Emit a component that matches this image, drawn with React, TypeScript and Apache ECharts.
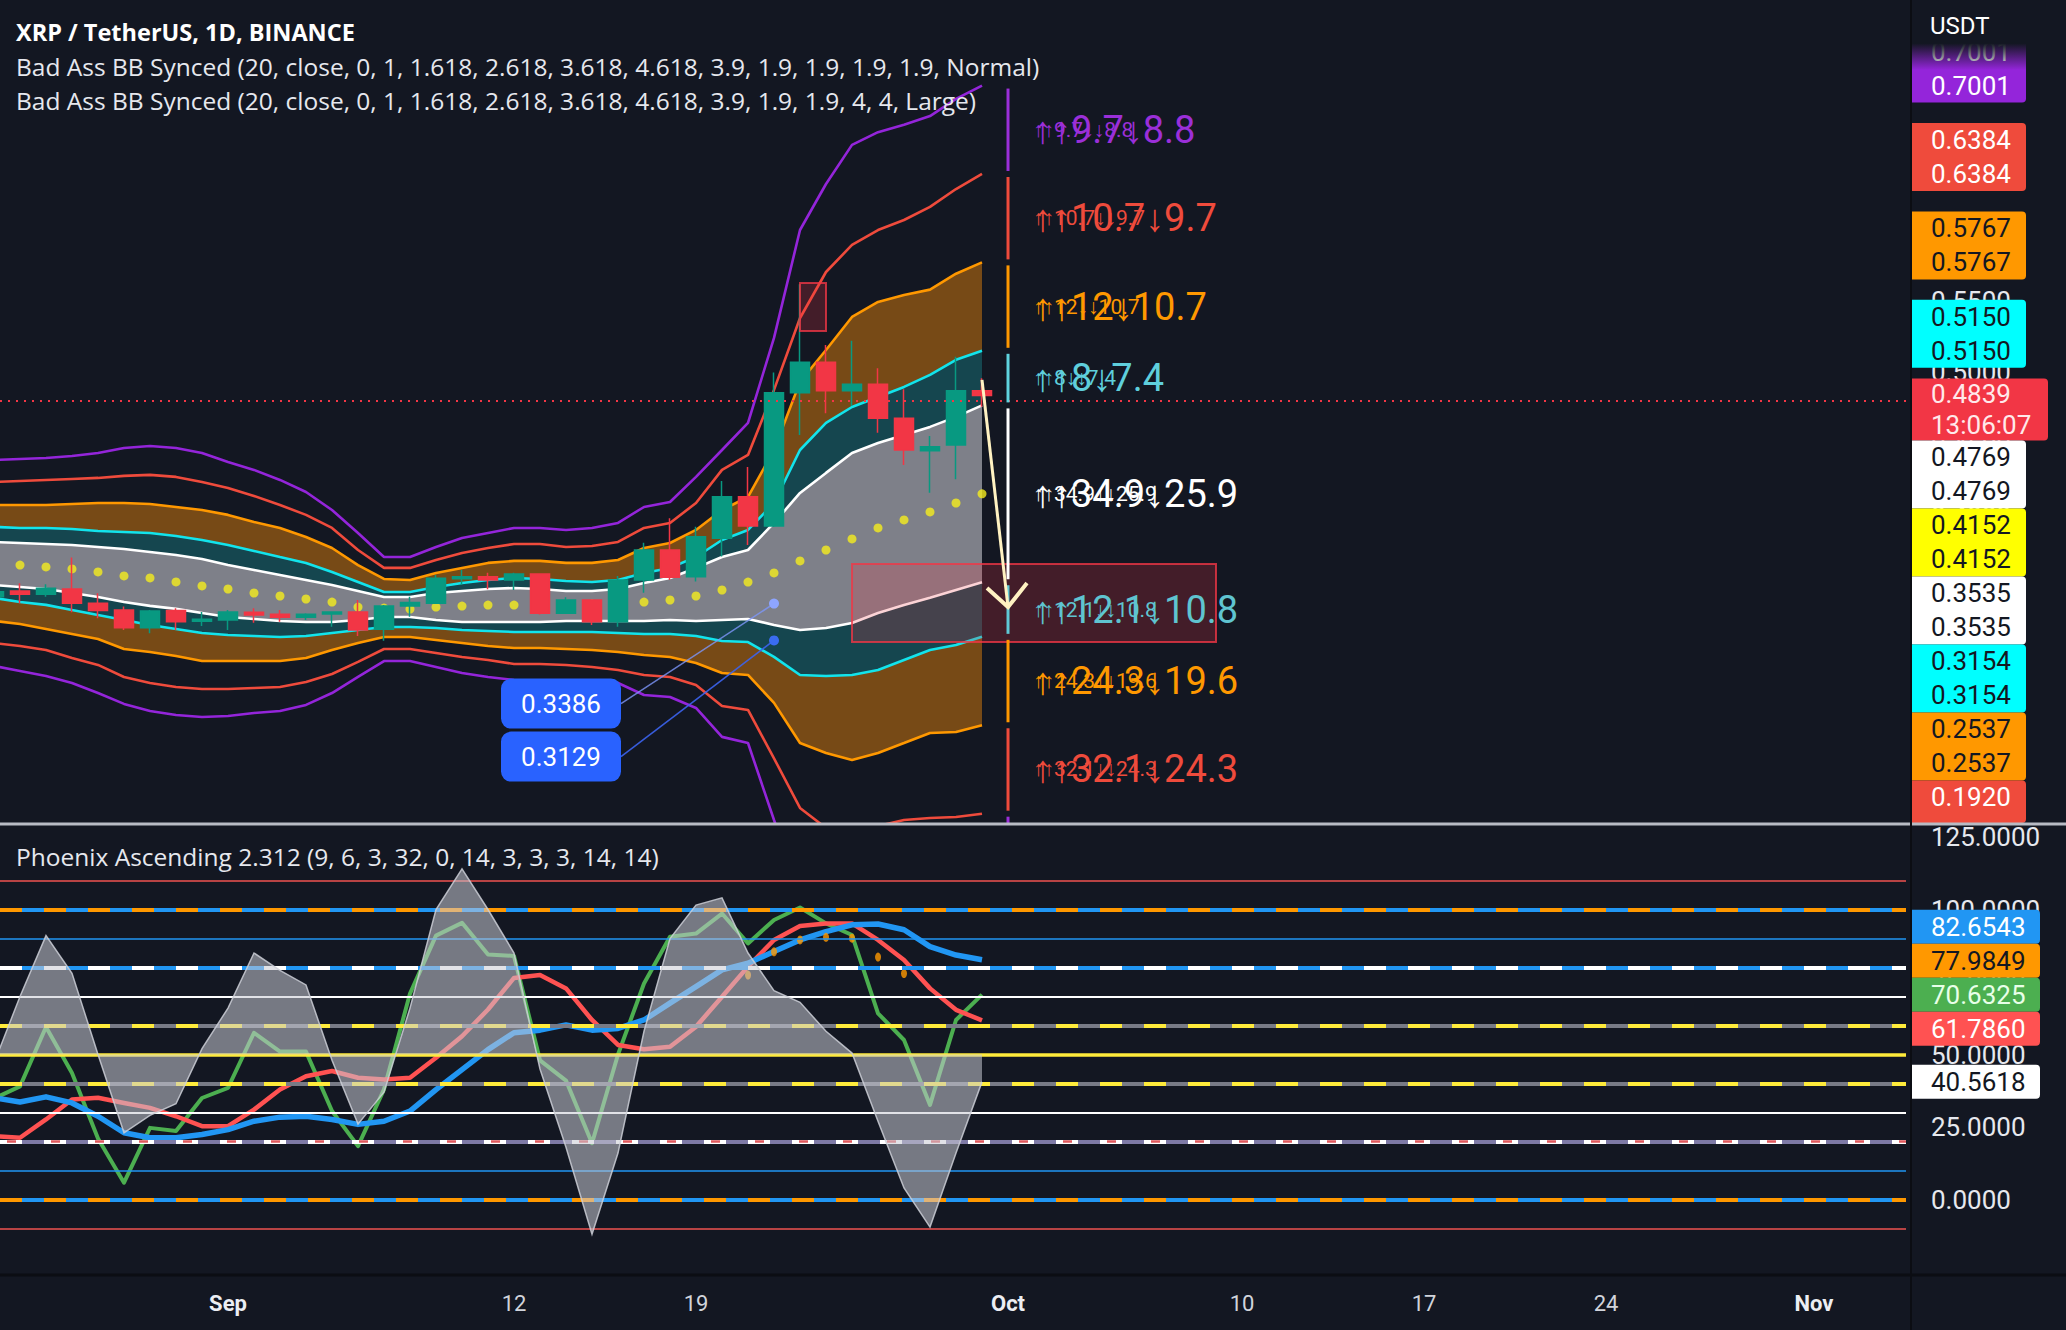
import React, { useEffect, useRef } from "react";
import * as echarts from "echarts";

// ---------------- constants (style / layout) ----------------
const BG = "#131722";
const AXIS_X = 1910;
const PANE_BOTTOM = 823;
const FONT_NUM = "Roboto";
const FONT_TXT = "Open Sans";

// ---------------- timeline (day index 0 = START_DATE) ----------------
const START_DATE = "2022-08-23";
const DAY_COUNT = 74;
const X_MIN = 0.2308; // visible time window, in days from START_DATE
const X_MAX = 73.538;
const xTickLabels = [
  { date: "2022-09-01", text: "Sep", month: true },
  { date: "2022-09-12", text: "12", month: false },
  { date: "2022-09-19", text: "19", month: false },
  { date: "2022-10-01", text: "Oct", month: true },
  { date: "2022-10-10", text: "10", month: false },
  { date: "2022-10-17", text: "17", month: false },
  { date: "2022-10-24", text: "24", month: false },
  { date: "2022-11-01", text: "Nov", month: true },
];

// ---------------- price data (Aug 23 .. Sep 30), [open, close, low, high] ----------------
const candles: number[][] = [
  [0.3434, 0.3469, 0.3420, 0.3480],
  [0.3474, 0.3451, 0.3388, 0.3528],
  [0.3451, 0.3493, 0.3434, 0.3521],
  [0.3488, 0.3388, 0.3326, 0.3707],
  [0.3388, 0.3337, 0.3284, 0.3458],
  [0.3342, 0.3218, 0.3202, 0.3365],
  [0.3218, 0.3335, 0.3179, 0.3342],
  [0.3337, 0.3260, 0.3202, 0.3354],
  [0.3263, 0.3277, 0.3230, 0.3328],
  [0.3272, 0.3328, 0.3202, 0.3342],
  [0.3326, 0.3307, 0.3253, 0.3354],
  [0.3312, 0.3291, 0.3260, 0.3342],
  [0.3291, 0.3312, 0.3272, 0.3319],
  [0.3314, 0.3328, 0.3225, 0.3328],
  [0.3328, 0.3202, 0.3160, 0.3411],
  [0.3207, 0.3370, 0.3127, 0.3377],
  [0.3370, 0.3393, 0.3295, 0.3434],
  [0.3388, 0.3563, 0.3383, 0.3586],
  [0.3560, 0.3574, 0.3516, 0.3621],
  [0.3574, 0.3551, 0.3486, 0.3602],
  [0.3551, 0.3593, 0.3481, 0.3602],
  [0.3593, 0.3319, 0.3310, 0.3598],
  [0.3319, 0.3411, 0.3314, 0.3430],
  [0.3411, 0.3260, 0.3237, 0.3416],
  [0.3260, 0.3551, 0.3225, 0.3579],
  [0.3551, 0.3760, 0.3462, 0.3811],
  [0.3760, 0.3570, 0.3551, 0.3982],
  [0.3574, 0.3853, 0.3540, 0.3923],
  [0.3842, 0.4132, 0.3714, 0.4242],
  [0.4132, 0.3928, 0.3795, 0.4340],
  [0.3928, 0.4858, 0.3920, 0.4998],
  [0.4858, 0.5070, 0.4563, 0.5615],
  [0.5070, 0.4872, 0.4714, 0.5191],
  [0.4872, 0.4917, 0.4765, 0.5221],
  [0.4917, 0.4679, 0.4579, 0.5028],
  [0.4679, 0.4458, 0.4353, 0.4882],
  [0.4453, 0.4481, 0.4160, 0.4556],
  [0.4493, 0.4872, 0.4254, 0.5109],
  [0.4872, 0.4839, 0.4760, 0.4959],
];
const currentPrice = 0.4839;
const countdown = "13:06:07";

// Bollinger-style bands (Aug 23 .. Sep 30)
const bbPurpleUp = [0.4388, 0.4395, 0.4402, 0.4416, 0.4437, 0.4472, 0.4486, 0.4472, 0.4437, 0.4374, 0.4319, 0.4249, 0.4165, 0.4039, 0.3879, 0.3711, 0.3711, 0.3781, 0.3844, 0.3879, 0.3914, 0.3914, 0.3900, 0.3914, 0.3949, 0.4060, 0.4095, 0.4270, 0.4458, 0.4647, 0.5240, 0.5993, 0.6314, 0.6587, 0.6676, 0.6728, 0.6788, 0.6908, 0.7001];
const bbRedUp = [0.4235, 0.4242, 0.4249, 0.4256, 0.4263, 0.4277, 0.4284, 0.4270, 0.4235, 0.4193, 0.4137, 0.4074, 0.4005, 0.3914, 0.3760, 0.3635, 0.3635, 0.3690, 0.3739, 0.3774, 0.3802, 0.3802, 0.3781, 0.3788, 0.3816, 0.3914, 0.3949, 0.4088, 0.4319, 0.4423, 0.4877, 0.5379, 0.5700, 0.5889, 0.5993, 0.6063, 0.6154, 0.6279, 0.6384];
const bbOrangeUp = [0.4074, 0.4074, 0.4074, 0.4081, 0.4088, 0.4088, 0.4081, 0.4060, 0.4039, 0.4005, 0.3956, 0.3914, 0.3851, 0.3774, 0.3655, 0.3558, 0.3551, 0.3600, 0.3635, 0.3670, 0.3684, 0.3684, 0.3670, 0.3670, 0.3690, 0.3774, 0.3809, 0.3900, 0.4039, 0.4130, 0.4458, 0.4933, 0.5156, 0.5386, 0.5491, 0.5540, 0.5577, 0.5688, 0.5767];
const bbCyanUp = [0.3921, 0.3914, 0.3914, 0.3907, 0.3893, 0.3886, 0.3879, 0.3858, 0.3830, 0.3795, 0.3753, 0.3711, 0.3670, 0.3607, 0.3537, 0.3467, 0.3467, 0.3502, 0.3530, 0.3551, 0.3565, 0.3558, 0.3544, 0.3537, 0.3551, 0.3600, 0.3635, 0.3711, 0.3830, 0.3900, 0.4088, 0.4458, 0.4647, 0.4758, 0.4828, 0.4898, 0.4982, 0.5087, 0.5150];
const bbWhiteUp = [0.3816, 0.3809, 0.3802, 0.3795, 0.3781, 0.3767, 0.3746, 0.3725, 0.3697, 0.3655, 0.3621, 0.3586, 0.3551, 0.3516, 0.3474, 0.3432, 0.3432, 0.3460, 0.3474, 0.3488, 0.3495, 0.3488, 0.3474, 0.3474, 0.3488, 0.3530, 0.3565, 0.3635, 0.3711, 0.3760, 0.3949, 0.4158, 0.4298, 0.4437, 0.4507, 0.4563, 0.4619, 0.4689, 0.4769];
const bbBasis = [0.3670, 0.3655, 0.3642, 0.3628, 0.3607, 0.3579, 0.3565, 0.3537, 0.3509, 0.3488, 0.3460, 0.3439, 0.3418, 0.3397, 0.3362, 0.3355, 0.3348, 0.3362, 0.3369, 0.3376, 0.3376, 0.3383, 0.3383, 0.3383, 0.3390, 0.3397, 0.3411, 0.3439, 0.3481, 0.3536, 0.3600, 0.3684, 0.3760, 0.3837, 0.3914, 0.3970, 0.4026, 0.4088, 0.4152];
const bbWhiteDn = [0.3516, 0.3502, 0.3488, 0.3460, 0.3432, 0.3397, 0.3370, 0.3349, 0.3321, 0.3293, 0.3279, 0.3265, 0.3258, 0.3258, 0.3272, 0.3293, 0.3293, 0.3272, 0.3258, 0.3258, 0.3258, 0.3258, 0.3265, 0.3265, 0.3265, 0.3265, 0.3272, 0.3265, 0.3272, 0.3279, 0.3237, 0.3202, 0.3216, 0.3251, 0.3321, 0.3377, 0.3426, 0.3481, 0.3535];
const bbCyanDn = [0.3425, 0.3397, 0.3377, 0.3342, 0.3307, 0.3272, 0.3237, 0.3209, 0.3181, 0.3167, 0.3160, 0.3153, 0.3160, 0.3181, 0.3202, 0.3223, 0.3223, 0.3216, 0.3202, 0.3195, 0.3188, 0.3188, 0.3188, 0.3188, 0.3181, 0.3174, 0.3174, 0.3160, 0.3125, 0.3118, 0.3014, 0.2888, 0.2881, 0.2888, 0.2923, 0.2993, 0.3062, 0.3097, 0.3154];
const bbOrangeDn = [0.3265, 0.3244, 0.3209, 0.3174, 0.3139, 0.3069, 0.3048, 0.3020, 0.2985, 0.2985, 0.2985, 0.2985, 0.3006, 0.3062, 0.3111, 0.3153, 0.3153, 0.3132, 0.3111, 0.3090, 0.3076, 0.3076, 0.3069, 0.3062, 0.3048, 0.3027, 0.3013, 0.2972, 0.2902, 0.2888, 0.2693, 0.2413, 0.2344, 0.2295, 0.2344, 0.2413, 0.2483, 0.2490, 0.2537];
const bbRedDn = [0.3111, 0.3090, 0.3062, 0.3006, 0.2958, 0.2874, 0.2832, 0.2804, 0.2790, 0.2790, 0.2797, 0.2804, 0.2839, 0.2895, 0.2979, 0.3069, 0.3069, 0.3041, 0.3013, 0.2993, 0.2965, 0.2965, 0.2958, 0.2944, 0.2923, 0.2888, 0.2874, 0.2818, 0.2672, 0.2644, 0.2306, 0.1960, 0.1820, 0.1785, 0.1834, 0.1876, 0.1890, 0.1897, 0.1920];
const bbPurpleDn = [0.2951, 0.2916, 0.2881, 0.2832, 0.2762, 0.2686, 0.2637, 0.2609, 0.2595, 0.2602, 0.2623, 0.2637, 0.2679, 0.2762, 0.2874, 0.2985, 0.2985, 0.2944, 0.2902, 0.2874, 0.2853, 0.2846, 0.2839, 0.2839, 0.2832, 0.2748, 0.2734, 0.2658, 0.2456, 0.2413, 0.1876, 0.1353, 0.1213, 0.1087, 0.1143, 0.1213, 0.1262, 0.1269, 0.1303];

// projection ladder labels (top to bottom)
const projectionDate = "2022-10-01";
const projUp = ["9.7", "10.7", "12", "8", "34.9", "12.1", "24.3", "32.1"];
const projDn = ["8.8", "9.7", "10.7", "7.4", "25.9", "10.8", "19.6", "24.3"];

// drawings
const noteBoxes = [
  { from: "2022-09-25", to: "2022-10-09", top: 0.3662, bottom: 0.3118 },
  { from: "2022-09-23", to: "2022-09-24", top: 0.5623, bottom: 0.5288 },
];
const arrowFrom = { date: "2022-09-30", price: 0.4947 };
const arrowTo = { date: "2022-10-01", price: 0.3362 };
const priceNotes = [
  { date: "2022-09-22", price: 0.3386 },
  { date: "2022-09-22", price: 0.3129 },
];

// ---------------- oscillator (Aug 23 .. Sep 30) ----------------
const oscGray = [47, 70, 91, 78, 50, 23, 29, 33, 52, 66, 85, 79, 74, 48, 26, 37, 66, 100, 114, 100, 85, 45, 18, -12, 16, 58, 90, 101.5, 104, 85, 72, 68, 58, 50.5, 27, 4, -9.5, 16, 40.5618];
const oscGreen = [34.8, 39, 59.5, 43.6, 21, 5.8, 24.7, 23.6, 35, 38.5, 57.5, 51, 51, 30.5, 18.4, 38, 71, 91, 95.4, 84.5, 84, 48, 41, 19.4, 50, 74.5, 90.6, 91.7, 98.6, 88.3, 96.4, 100.7, 95.2, 91.2, 64.2, 55, 32.6, 61.9, 70.6325];
const oscRed = [21.8, 21.3, 27.6, 34.5, 35.1, 33.3, 31.6, 28.7, 25.3, 25.3, 31, 37.9, 42.5, 44.3, 42, 41.4, 42, 48.9, 56.3, 65.5, 76.4, 77.4, 72.8, 61.9, 53.3, 51.8, 52.7, 59.6, 69.9, 80.3, 89.5, 94.3, 95.2, 95.2, 89.5, 82.6, 72.8, 65.4, 61.786];
const oscBlue = [35.1, 33.6, 35.4, 33.3, 28.7, 23, 21.3, 21.3, 22.4, 24.1, 27, 28.4, 28.7, 27.6, 25.9, 27, 30.5, 37.9, 44.8, 51.7, 57.5, 58.4, 60.2, 58.4, 59, 61.9, 67.7, 73.4, 79.2, 81.5, 85.5, 89.5, 92.4, 94.7, 95, 93, 87.2, 84.3, 82.6543];
const oscOrangeDots: [string, number][] = [
  ["2022-09-21", 77.4], ["2022-09-22", 85.4], ["2022-09-23", 89.5], ["2022-09-24", 90.4],
  ["2022-09-25", 90.1], ["2022-09-26", 83.6], ["2022-09-27", 77.9],
];
const oscOrangeLast = 77.9849;
const oscBaseline = 50;
const oscLevels = [
  { v: 110, color: "#f05350", w: 1.6 },
  { v: 100, color: "#2196f3", dash: "#ff9800", w: 4 },
  { v: 90, color: "#2196f3", w: 1.6 },
  { v: 80, color: "#2196f3", dash: "#ffffff", w: 4 },
  { v: 70, color: "#ffffff", w: 2 },
  { v: 60, color: "#787b86", dash: "#ffeb3b", w: 4 },
  { v: 50, color: "#ffeb3b", w: 3.5 },
  { v: 40, color: "#787b86", dash: "#ffeb3b", w: 4 },
  { v: 30, color: "#ffffff", w: 2 },
  { v: 20, color: "#7e7aa6", dash: "#ffffff", dash2: "#e0585c", w: 4 },
  { v: 10, color: "#2196f3", w: 1.6 },
  { v: 0, color: "#2196f3", dash: "#ff9800", w: 4 },
  { v: -10, color: "#f05350", w: 1.6 },
];

// ---------------- colours ----------------
const C_PURPLE = "#9425da";
const C_RED = "#ef4b3c";
const C_ORANGE = "#ff9800";
const C_CYAN = "#12e4ec";
const C_WHITE = "#ffffff";
const C_DOT = "#f5ec1e";
const F_BROWN = "#774a16";
const F_TEAL = "#15464f";
const F_GRAY = "#7e8089";

function dayIndex(d: string) {
  const [y, m, dd] = START_DATE.split("-").map(Number);
  const [y2, m2, d2] = d.split("-").map(Number);
  return Math.round((Date.UTC(y2, m2 - 1, d2) - Date.UTC(y, m - 1, dd)) / 86400000);
}
const last = (a: number[]) => a[a.length - 1];
const pairs = (a: number[]) => a.map((v, k) => [k, v]);

const bandLines = [
  { data: bbPurpleUp, color: C_PURPLE }, { data: bbRedUp, color: C_RED }, { data: bbOrangeUp, color: C_ORANGE },
  { data: bbCyanUp, color: C_CYAN }, { data: bbWhiteUp, color: C_WHITE }, { data: bbWhiteDn, color: C_WHITE },
  { data: bbCyanDn, color: C_CYAN }, { data: bbOrangeDn, color: C_ORANGE }, { data: bbRedDn, color: C_RED },
  { data: bbPurpleDn, color: C_PURPLE },
];
const bandFills = [
  { lo: bbOrangeDn, hi: bbCyanDn, color: F_BROWN },
  { lo: bbCyanDn, hi: bbWhiteDn, color: F_TEAL },
  { lo: bbWhiteDn, hi: bbWhiteUp, color: F_GRAY },
  { lo: bbWhiteUp, hi: bbCyanUp, color: F_TEAL },
  { lo: bbCyanUp, hi: bbOrangeUp, color: F_BROWN },
];
const ladder = [bbPurpleUp, bbRedUp, bbOrangeUp, bbCyanUp, bbWhiteUp, bbWhiteDn, bbCyanDn, bbOrangeDn, bbRedDn, bbPurpleDn].map(last);
const ladderColors = ["#9b2fd9", C_RED, C_ORANGE, "#5fd3df", C_WHITE, "#5fc9d6", C_ORANGE, C_RED, "#9b2fd9"];
const ladderTextColors = ["#9b2fd9", "#ef4b3c", "#ff9800", "#5fcfdc", "#ffffff", "#5fc4d0", "#ff9800", "#ef4b3c"];

function txt(x: number, y: number, text: string, fill: string, size: number, family: string, weight = "normal", align = "left") {
  return {
    type: "text", x, y,
    style: { text, fill, fontSize: size, fontFamily: family, fontWeight: weight, textAlign: align, textVerticalAlign: "middle", align, verticalAlign: "middle" },
  };
}

function renderFills(params: any, api: any) {
  const b = bandFills[params.dataIndex];
  const pts: number[][] = [];
  for (let k = 0; k < b.hi.length; k++) pts.push(api.coord([k, b.hi[k]]));
  for (let k = b.lo.length - 1; k >= 0; k--) pts.push(api.coord([k, b.lo[k]]));
  return { type: "polygon", shape: { points: pts }, style: { fill: b.color } };
}

function renderNotes(params: any, api: any) {
  const c = (d: string, v: number) => api.coord([dayIndex(d), v]);
  const ch: any[] = [];
  noteBoxes.forEach((b) => {
    const p1 = c(b.from, b.top), p2 = c(b.to, b.bottom);
    ch.push({ type: "rect", shape: { x: p1[0], y: p1[1], width: p2[0] - p1[0], height: p2[1] - p1[1] },
      style: { fill: "rgba(242,54,69,0.22)", stroke: "rgba(242,54,69,0.78)", lineWidth: 2 } });
  });
  const px = c(projectionDate, 0.4)[0];
  for (let j = 0; j < ladder.length - 1; j++) {
    const y1 = c(projectionDate, ladder[j])[1];
    const y2 = c(projectionDate, ladder[j + 1])[1];
    ch.push({ type: "line", shape: { x1: px, y1: y1 + 3, x2: px, y2: y2 - 3 }, style: { stroke: ladderColors[j], lineWidth: 3 } });
    if (j < projUp.length) {
      const ym = (y1 + y2) / 2;
      ch.push(txt(px + 25, ym, "↑↑" + projUp[j] + "↓↓" + projDn[j], ladderTextColors[j], 21, FONT_NUM));
      ch.push(txt(px + 25, ym, "↑↑" + projUp[j] + "↓" + projDn[j], ladderTextColors[j], 38, FONT_NUM));
    }
  }
  // arrow
  const a1 = c(arrowFrom.date, arrowFrom.price), a2 = c(arrowTo.date, arrowTo.price);
  ch.push({ type: "line", shape: { x1: a1[0], y1: a1[1], x2: a2[0], y2: a2[1] }, style: { stroke: "#fff2c2", lineWidth: 3 } });
  ch.push({ type: "polyline", shape: { points: [[a2[0] - 21, a2[1] - 19], [a2[0], a2[1]], [a2[0] + 19, a2[1] - 24]] },
    style: { stroke: "#fff2c2", lineWidth: 4, fill: "none" } });
  // price notes
  let tagTop = 0;
  priceNotes.forEach((n, j) => {
    const p = c(n.date, n.price);
    const w = 120, h = 50;
    const right = p[0] - 153;
    if (j === 0) tagTop = p[1] + 100 - h / 2; else tagTop = tagTop + h + 3;
    const midY = tagTop + h / 2;
    ch.push({ type: "line", shape: { x1: right, y1: midY, x2: p[0], y2: p[1] }, style: { stroke: j === 0 ? "rgba(125,150,250,0.8)" : "rgba(60,100,240,0.9)", lineWidth: 1.6 } });
    ch.push({ type: "circle", shape: { cx: p[0], cy: p[1], r: 5 }, style: { fill: j === 0 ? "#8ea5ff" : "#3a6cf0" } });
    ch.push({ type: "rect", shape: { x: right - w, y: tagTop, width: w, height: h, r: 10 }, style: { fill: "#2962ff" } });
    ch.push(txt(right - w / 2, midY, n.price.toFixed(4), "#ffffff", 26, FONT_NUM, "normal", "center"));
  });
  return { type: "group", children: ch };
}

function renderOscArea(params: any, api: any) {
  const pts: number[][] = oscGray.map((v, k) => api.coord([k, v]));
  const poly = pts.concat([api.coord([oscGray.length - 1, oscBaseline]), api.coord([0, oscBaseline])]);
  return {
    type: "group",
    children: [
      { type: "polygon", shape: { points: poly }, style: { fill: "rgba(200,202,212,0.55)" } },
      { type: "polyline", shape: { points: pts }, style: { stroke: "rgba(205,207,215,0.85)", lineWidth: 1.5, fill: "none" } },
    ],
  };
}

function buildOption() {
  const levelMarks: any[] = [];
  oscLevels.forEach((l: any) => {
    levelMarks.push({ yAxis: l.v, lineStyle: { color: l.color, width: l.w, type: "solid" } });
    if (l.dash) levelMarks.push({ yAxis: l.v, lineStyle: { color: l.dash, width: l.w, type: [22, 22], dashOffset: 0 } });
    if (l.dash2) levelMarks.push({ yAxis: l.v, lineStyle: { color: l.dash2, width: l.w - 1.5, type: [9, 35], dashOffset: -7 } });
  });
  const series: any[] = [
    { type: "custom", xAxisIndex: 0, yAxisIndex: 0, renderItem: renderFills, data: bandFills.map((_, j) => [j, 0.35]), encode: { x: 0, y: 1 }, clip: true, z: 1, silent: true },
    ...bandLines.map((b) => ({
      type: "line", xAxisIndex: 0, yAxisIndex: 0, data: pairs(b.data), showSymbol: false, silent: true, z: 2,
      lineStyle: { color: b.color, width: 2.6 },
    })),
    { type: "scatter", xAxisIndex: 0, yAxisIndex: 0, data: pairs(bbBasis), symbolSize: 9, itemStyle: { color: C_DOT }, z: 3, silent: true },
    {
      type: "candlestick", xAxisIndex: 0, yAxisIndex: 0, data: candles.map((c, k) => [k, ...c]),
      encode: { x: 0, y: [1, 2, 3, 4] }, barWidth: 19, z: 4, silent: true,
      itemStyle: { color: "#089981", color0: "#f23645", borderColor: "#089981", borderColor0: "#f23645", borderWidth: 1.5 },
      markLine: {
        silent: true, symbol: ["none", "none"], label: { show: false },
        lineStyle: { color: "#f23645", type: [2, 6], width: 2 },
        data: [{ yAxis: currentPrice }],
      },
    },
    { type: "custom", xAxisIndex: 0, yAxisIndex: 0, renderItem: renderNotes, data: [[1, 0.4]], encode: { x: 0, y: 1 }, clip: true, z: 6, silent: true },
    // oscillator
    {
      type: "line", xAxisIndex: 1, yAxisIndex: 1, data: pairs(oscGray), showSymbol: false, lineStyle: { opacity: 0 }, silent: true, z: 1,
      markLine: { silent: true, symbol: ["none", "none"], label: { show: false }, data: levelMarks },
    },
    { type: "line", xAxisIndex: 1, yAxisIndex: 1, data: pairs(oscGreen), showSymbol: false, silent: true, z: 3, lineStyle: { color: "#4caf50", width: 4, join: "round" } },
    { type: "line", xAxisIndex: 1, yAxisIndex: 1, data: pairs(oscRed), showSymbol: false, silent: true, z: 3, lineStyle: { color: "#ff5252", width: 4.5, join: "round" } },
    { type: "line", xAxisIndex: 1, yAxisIndex: 1, data: pairs(oscBlue), showSymbol: false, silent: true, z: 3, lineStyle: { color: "#2196f3", width: 5.5, join: "round" } },
    { type: "scatter", xAxisIndex: 1, yAxisIndex: 1, data: oscOrangeDots.map(([d, v]) => [dayIndex(d), v]), symbolSize: [6, 9], itemStyle: { color: "#ff9800" }, z: 4, silent: true },
    { type: "custom", xAxisIndex: 1, yAxisIndex: 1, renderItem: renderOscArea, data: [[1, 50]], encode: { x: 0, y: 1 }, clip: true, z: 5, silent: true },
  ];
  const xAx = (gridIndex: number) => ({ type: "value", gridIndex, min: X_MIN, max: X_MAX, show: false, splitLine: { show: false } });
  return {
    animation: false,
    backgroundColor: BG,
    textStyle: { fontFamily: FONT_NUM },
    grid: [
      { left: 0, top: 0, width: 1906, height: PANE_BOTTOM },
      { left: 0, top: 837, width: 1906, height: 435 },
    ],
    xAxis: [xAx(0), xAx(1)],
    yAxis: [
      {
        type: "value", gridIndex: 0, position: "right", min: 0.1855, max: 0.7598, splitNumber: 12,
        axisLine: { show: false }, axisTick: { show: false }, splitLine: { show: false },
        axisLabel: {
          margin: 25, color: "#e6e8ee", fontSize: 26, fontFamily: FONT_NUM, showMinLabel: false, showMaxLabel: false,
          formatter: (v: number) => (v > 0.72 || Math.abs(v * 20 - Math.round(v * 20)) > 1e-6 ? "" : v.toFixed(4)),
        },
      },
      {
        type: "value", gridIndex: 1, position: "right", min: -25, max: 125, interval: 25,
        axisLine: { show: false }, axisTick: { show: false }, splitLine: { show: false },
        axisLabel: { margin: 25, color: "#e6e8ee", fontSize: 26, fontFamily: FONT_NUM, formatter: (v: number) => (v < 0 ? "" : v.toFixed(4)) },
      },
    ],
    series,
  };
}

function tagEls(top: number, h: number, lineH: number, w: number, bg: string, fg: string, lines: string[]) {
  const els: any[] = [];
  let hh = h;
  if (top + hh > PANE_BOTTOM) hh = PANE_BOTTOM - top;
  if (hh <= 0) return els;
  els.push({ type: "rect", shape: { x: AXIS_X, y: top, width: w, height: hh, r: [0, 4, 4, 0] }, style: { fill: bg }, z: 80 });
  lines.forEach((t, j) => {
    const cy = top + lineH * (j + 0.5);
    if (cy < PANE_BOTTOM - 8) els.push({ ...txt(AXIS_X + 21, cy, t, fg, 26, FONT_NUM), z: 81 });
  });
  return els;
}

function buildGraphics(chart: any) {
  const yM = (v: number) => chart.convertToPixel({ yAxisIndex: 0 }, v) as number;
  const yO = (v: number) => chart.convertToPixel({ yAxisIndex: 1 }, v) as number;
  const xO = (v: number) => chart.convertToPixel({ xAxisIndex: 1 }, v) as number;
  const g: any[] = [];
  // main price tags
  const defs = [
    { v: last(bbPurpleUp), bg: "#9425da", fg: "#ffffff" },
    { v: last(bbRedUp), bg: "#ef4b3c", fg: "#ffffff" },
    { v: last(bbOrangeUp), bg: "#ff9800", fg: "#131722" },
    { v: last(bbCyanUp), bg: "#00ffff", fg: "#131722" },
    { v: currentPrice, bg: "#f23645", fg: "#ffe9ea", current: true },
    { v: last(bbWhiteUp), bg: "#ffffff", fg: "#131722" },
    { v: last(bbBasis), bg: "#ffff00", fg: "#131722" },
    { v: last(bbWhiteDn), bg: "#ffffff", fg: "#131722" },
    { v: last(bbCyanDn), bg: "#00ffff", fg: "#131722" },
    { v: last(bbOrangeDn), bg: "#ff9800", fg: "#131722" },
    { v: last(bbRedDn), bg: "#ef4b3c", fg: "#ffffff" },
  ].sort((a, b) => b.v - a.v);
  const items = defs.map((d: any) => {
    const h = d.current ? 62 : 68;
    const ideal = d.current ? yM(d.v) - 17 : yM(d.v) - 51;
    return { ...d, h, top: ideal };
  });
  const ci = items.findIndex((d: any) => d.current);
  for (let j = ci + 1; j < items.length; j++) {
    const prevBottom = items[j - 1].top + items[j - 1].h;
    if (items[j].top < prevBottom) items[j].top = prevBottom;
  }
  for (let j = ci - 1; j >= 0; j--) {
    const nextTop = items[j + 1].top;
    if (items[j].top + items[j].h > nextTop) items[j].top = nextTop - items[j].h;
  }
  items.forEach((d: any) => {
    if (d.current) g.push(...tagEls(d.top, d.h, 31, 138, d.bg, d.fg, [d.v.toFixed(4), countdown]));
    else g.push(...tagEls(d.top, d.h, 34, 116, d.bg, d.fg, [d.v.toFixed(4), d.v.toFixed(4)]));
  });
  // oscillator tags: overlapping tags are stacked around the middle one
  const oDefs = [
    { v: last(oscBlue), bg: "#2196f3", fg: "#ffffff" },
    { v: oscOrangeLast, bg: "#ff9800", fg: "#131722" },
    { v: last(oscGreen), bg: "#4caf50", fg: "#e8ffe8" },
    { v: last(oscRed), bg: "#ff5252", fg: "#ffffff" },
    { v: last(oscGray), bg: "#ffffff", fg: "#131722" },
  ].sort((a, b) => b.v - a.v).map((d) => ({ ...d, c: yO(d.v), h: 34 }));
  const groups: any[] = [];
  const anchorTop = (its: any[]) => {
    const m = Math.floor(its.length / 2);
    let off = 0;
    for (let j = 0; j < m; j++) off += its[j].h;
    return its[m].c - its[m].h / 2 - off;
  };
  oDefs.forEach((it) => {
    groups.push({ items: [it], top: it.c - it.h / 2, h: it.h });
    while (groups.length > 1) {
      const b = groups[groups.length - 1], a = groups[groups.length - 2];
      if (a.top + a.h > b.top) {
        const its = [...a.items, ...b.items];
        const h = its.reduce((s: number, x: any) => s + x.h, 0);
        groups.splice(groups.length - 2, 2, { items: its, top: anchorTop(its), h });
      } else break;
    }
  });
  groups.forEach((gr) => {
    let t = gr.top;
    gr.items.forEach((it: any) => {
      g.push({ type: "rect", shape: { x: AXIS_X, y: t, width: 130, height: it.h, r: [0, 4, 4, 0] }, style: { fill: it.bg }, z: 80 });
      g.push({ ...txt(AXIS_X + 21, t + it.h / 2, it.v.toFixed(4), it.fg, 26, FONT_NUM), z: 81 });
      t += it.h;
    });
  });
  // time axis labels
  xTickLabels.forEach((t) => {
    g.push({ ...txt(xO(dayIndex(t.date)), 1303, t.text, t.month ? "#eceef3" : "#d1d4dc", 22, FONT_NUM, t.month ? "bold" : "normal", "center"), z: 97 });
  });
  // top fade and header
  g.push({
    type: "rect", shape: { x: AXIS_X + 2, y: 0, width: 2066 - AXIS_X, height: 70 }, z: 90,
    style: { fill: new echarts.graphic.LinearGradient(0, 0, 0, 1, [
      { offset: 0, color: BG }, { offset: 0.62, color: BG }, { offset: 1, color: "rgba(19,23,34,0)" },
    ]) },
  });
  g.push({ ...txt(1930, 26, "USDT", "#ffffff", 24, FONT_NUM), z: 95 });
  // pane borders
  g.push({ type: "line", shape: { x1: 0, y1: 824, x2: 2066, y2: 824 }, style: { stroke: "#b8bbc4", lineWidth: 3 }, z: 96 });
  g.push({ type: "line", shape: { x1: 0, y1: 1275, x2: 2066, y2: 1275 }, style: { stroke: "#0b0d13", lineWidth: 3 }, z: 96 });
  g.push({ type: "line", shape: { x1: AXIS_X + 1, y1: 0, x2: AXIS_X + 1, y2: 1330 }, style: { stroke: "#0b0d13", lineWidth: 2 }, z: 96 });
  // legends
  g.push({ ...txt(16, 32, "XRP / TetherUS, 1D, BINANCE", "#ffffff", 23.5, FONT_TXT, "bold"), z: 97 });
  g.push({ ...txt(16, 66, "Bad Ass BB Synced (20, close, 0, 1, 1.618, 2.618, 3.618, 4.618, 3.9, 1.9, 1.9, 1.9, 1.9, Normal)", "#e6e8ee", 24.5, FONT_TXT), z: 97 });
  g.push({ ...txt(16, 100, "Bad Ass BB Synced (20, close, 0, 1, 1.618, 2.618, 3.618, 4.618, 3.9, 1.9, 1.9, 4, 4, Large)", "#e6e8ee", 24.5, FONT_TXT), z: 97 });
  g.push({ ...txt(16, 856, "Phoenix Ascending 2.312 (9, 6, 3, 32, 0, 14, 3, 3, 3, 14, 14)", "#e6e8ee", 24.5, FONT_TXT), z: 97 });
  return g;
}

export default function App() {
  const ref = useRef<HTMLDivElement>(null);
  useEffect(() => {
    document.body.style.margin = "0";
    document.body.style.background = BG;
    const chart = echarts.init(ref.current as HTMLDivElement, null, { renderer: "svg" });
    chart.setOption(buildOption() as any);
    chart.setOption({ graphic: buildGraphics(chart) } as any);
    return () => chart.dispose();
  }, []);
  return <div ref={ref} style={{ position: "fixed", left: 0, top: 0, width: 2066, height: 1330, background: BG }} />;
}
